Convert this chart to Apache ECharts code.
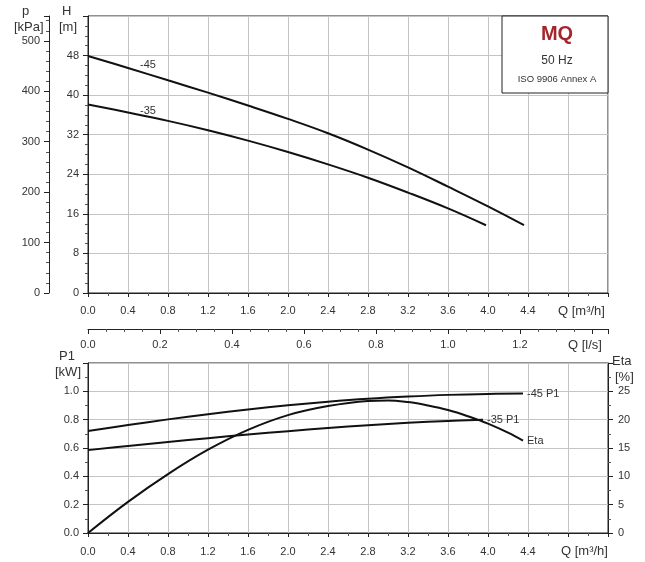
<!DOCTYPE html>
<html>
<head>
<meta charset="utf-8">
<script src="https://cdn.jsdelivr.net/npm/echarts@6/dist/echarts.min.js"></script>
<style>
html,body{margin:0;padding:0;background:#fff;}
#chart{width:645px;height:562px;}
</style>
</head>
<body>
<div id="chart"></div>
<script>
// ---- data ----
const qH45 = [0, 0.4, 0.8, 1.2, 1.6, 2.0, 2.4, 2.8, 3.2, 3.6, 4.0, 4.36];
const h45  = [47.9, 45.5, 43.0, 40.5, 37.9, 35.2, 32.3, 29.0, 25.4, 21.5, 17.5, 13.7];
const qH35 = [0, 0.4, 0.8, 1.2, 1.6, 2.0, 2.4, 2.8, 3.2, 3.6, 3.98];
const h35  = [38.1, 36.5, 34.8, 32.9, 30.8, 28.5, 26.0, 23.3, 20.3, 17.1, 13.7];

const qP45 = [0, 0.4, 0.8, 1.2, 1.6, 2.0, 2.4, 2.8, 3.2, 3.6, 4.0, 4.35];
const p45  = [0.72, 0.762, 0.802, 0.839, 0.872, 0.901, 0.926, 0.947, 0.963, 0.975, 0.982, 0.984];
const qP35 = [0, 0.4, 0.8, 1.2, 1.6, 2.0, 2.4, 2.8, 3.2, 3.6, 3.95];
const p35  = [0.585, 0.614, 0.642, 0.669, 0.695, 0.719, 0.741, 0.761, 0.778, 0.791, 0.80];
const qEta = [0, 0.4, 0.8, 1.2, 1.6, 2.0, 2.4, 2.8, 3.0, 3.2, 3.4, 3.6, 3.8, 4.0, 4.2, 4.35];
const eta  = [0, 5.5, 10.4, 14.7, 18.2, 20.8, 22.4, 23.3, 23.4, 23.1, 22.5, 21.7, 20.6, 19.3, 17.7, 16.3];

const qTickLabels = ['0.0','0.4','0.8','1.2','1.6','2.0','2.4','2.8','3.2','3.6','4.0','4.4'];
const lsTickLabels = ['0.0','0.2','0.4','0.6','0.8','1.0','1.2'];
const label45Pos = [0.6, 46.2];
const label35Pos = [0.6, 36.8];

const FONT = "'Liberation Sans', Arial, sans-serif";
const TXT = '#333';
const GRIDC = '#c4c4c4';
const LINEC = '#111';

function pairs(xs, ys){ return xs.map((x,i)=>[x, ys[i]]); }
function qFmt(v){ const i = Math.round(v/0.4); return (Math.abs(v - i*0.4) < 1e-6 && i < qTickLabels.length) ? qTickLabels[i] : ''; }
function lsFmt(v){ const i = Math.round(v/0.2); return (Math.abs(v - i*0.2) < 1e-6 && i < lsTickLabels.length) ? lsTickLabels[i] : ''; }

const axisLineBlack = {show:true, onZero:false, lineStyle:{color:'#222', width:1}};
const lbl = (m)=>({color:TXT, fontSize:11, fontFamily:FONT, margin:m});
const split = {show:true, lineStyle:{color:GRIDC, width:1}};

const option = {
  animation:false,
  backgroundColor:'#fff',
  grid:[
    {left:88, right:37, top:16, height:277, show:true, borderColor:'#222', borderWidth:1},
    {left:88, right:37, top:363, height:170, show:true, borderColor:'#222', borderWidth:1}
  ],
  xAxis:[
    {gridIndex:0, type:'value', min:0, max:5.2, interval:0.4, position:'bottom',
     axisLine:axisLineBlack, axisTick:{show:true, length:4, lineStyle:{color:'#222'}},
     minorTick:{show:true, splitNumber:2, length:3, lineStyle:{color:'#555'}},
     splitLine:split, axisLabel:Object.assign(lbl(12), {formatter:qFmt})},
    {gridIndex:0, type:'value', min:0, max:5.2/3.6, interval:0.2, position:'bottom', offset:36,
     axisLine:axisLineBlack, axisTick:{show:true, length:5, lineStyle:{color:'#222'}},
     minorTick:{show:true, splitNumber:4, length:3, lineStyle:{color:'#555'}},
     splitLine:{show:false}, axisLabel:Object.assign(lbl(10), {formatter:lsFmt})},
    {gridIndex:1, type:'value', min:0, max:5.2, interval:0.4, position:'bottom',
     axisLine:axisLineBlack, axisTick:{show:true, length:4, lineStyle:{color:'#222'}},
     minorTick:{show:true, splitNumber:2, length:3, lineStyle:{color:'#555'}},
     splitLine:split, axisLabel:Object.assign(lbl(13), {formatter:qFmt})}
  ],
  yAxis:[
    {gridIndex:0, type:'value', min:0, max:56, interval:8, position:'left',
     axisLine:axisLineBlack, axisTick:{show:true, length:5, lineStyle:{color:'#222'}},
     minorTick:{show:true, splitNumber:4, length:3, lineStyle:{color:'#555'}},
     splitLine:split, axisLabel:Object.assign(lbl(9), {showMaxLabel:false})},
    {gridIndex:0, type:'value', min:0, max:56*9.81, interval:100, position:'left', offset:39,
     axisLine:axisLineBlack, axisTick:{show:true, length:5, lineStyle:{color:'#222'}},
     minorTick:{show:true, splitNumber:5, length:3, lineStyle:{color:'#555'}},
     splitLine:{show:false}, axisLabel:Object.assign(lbl(9), {showMaxLabel:false})},
    {gridIndex:1, type:'value', min:0, max:1.2, interval:0.2, position:'left',
     axisLine:axisLineBlack, axisTick:{show:true, length:5, lineStyle:{color:'#222'}},
     minorTick:{show:true, splitNumber:2, length:3, lineStyle:{color:'#555'}},
     splitLine:split, axisLabel:Object.assign(lbl(9), {showMaxLabel:false, formatter:(v)=>v.toFixed(1)})},
    {gridIndex:1, type:'value', min:0, max:30, interval:5, position:'right',
     axisLine:axisLineBlack, axisTick:{show:true, length:5, lineStyle:{color:'#222'}},
     minorTick:{show:true, splitNumber:2, length:3, lineStyle:{color:'#555'}},
     splitLine:{show:false}, axisLabel:Object.assign(lbl(10), {showMaxLabel:false})}
  ],
  series:[
    {type:'line', name:'-45', xAxisIndex:0, yAxisIndex:0, data:pairs(qH45,h45), smooth:0.4,
     showSymbol:false, lineStyle:{color:LINEC, width:2},
     markPoint:{symbol:'circle', symbolSize:0, data:[{coord:label45Pos, label:{show:true, position:'inside', formatter:'-45', color:TXT, fontSize:11, fontFamily:FONT}}]}},
    {type:'line', name:'-35', xAxisIndex:0, yAxisIndex:0, data:pairs(qH35,h35), smooth:0.4,
     showSymbol:false, lineStyle:{color:LINEC, width:2},
     markPoint:{symbol:'circle', symbolSize:0, data:[{coord:label35Pos, label:{show:true, position:'inside', formatter:'-35', color:TXT, fontSize:11, fontFamily:FONT}}]}},
    {type:'line', name:'-45 P1', xAxisIndex:2, yAxisIndex:2, data:pairs(qP45,p45), smooth:0.4,
     showSymbol:false, lineStyle:{color:LINEC, width:2},
     endLabel:{show:true, formatter:'-45 P1', distance:4, color:TXT, fontSize:11, fontFamily:FONT}},
    {type:'line', name:'-35 P1', xAxisIndex:2, yAxisIndex:2, data:pairs(qP35,p35), smooth:0.4,
     showSymbol:false, lineStyle:{color:LINEC, width:2},
     endLabel:{show:true, formatter:'-35 P1', distance:4, color:TXT, fontSize:11, fontFamily:FONT}},
    {type:'line', name:'Eta', xAxisIndex:2, yAxisIndex:3, data:pairs(qEta,eta), smooth:0.4,
     showSymbol:false, lineStyle:{color:LINEC, width:2},
     endLabel:{show:true, formatter:'Eta', distance:4, color:TXT, fontSize:11, fontFamily:FONT}}
  ],
  graphic:[
    {type:'text', left:22, top:5, style:{text:'p', fill:TXT, font:'13px '+FONT}},
    {type:'text', left:14, top:21, style:{text:'[kPa]', fill:TXT, font:'13px '+FONT}},
    {type:'text', left:62, top:5, style:{text:'H', fill:TXT, font:'13px '+FONT}},
    {type:'text', left:59, top:21, style:{text:'[m]', fill:TXT, font:'13px '+FONT}},
    {type:'text', left:558, top:305, style:{text:'Q [m\u00b3/h]', fill:TXT, font:'13px '+FONT}},
    {type:'text', left:568, top:339, style:{text:'Q [l/s]', fill:TXT, font:'13px '+FONT}},
    {type:'text', left:561, top:545, style:{text:'Q [m\u00b3/h]', fill:TXT, font:'13px '+FONT}},
    {type:'text', left:59, top:350, style:{text:'P1', fill:TXT, font:'13px '+FONT}},
    {type:'text', left:55, top:366, style:{text:'[kW]', fill:TXT, font:'13px '+FONT}},
    {type:'text', left:612, top:355, style:{text:'Eta', fill:TXT, font:'13px '+FONT}},
    {type:'text', left:615, top:371, style:{text:'[%]', fill:TXT, font:'13px '+FONT}},
    {type:'rect', shape:{x:502, y:16, width:106, height:77}, style:{fill:'#fff', stroke:'#222', lineWidth:1}, z:10},
    {type:'text', x:557, y:34, z:11, style:{text:'MQ', fill:'#a3262c', font:'bold 20px '+FONT, align:'center', verticalAlign:'middle'}},
    {type:'text', x:557, y:61, z:11, style:{text:'50 Hz', fill:TXT, font:'12px '+FONT, align:'center', verticalAlign:'middle'}},
    {type:'text', x:557, y:79, z:11, style:{text:'ISO 9906 Annex A', fill:TXT, font:'9.5px '+FONT, align:'center', verticalAlign:'middle'}}
  ]
};

const chart = echarts.init(document.getElementById('chart'), null, {renderer:'canvas'});
chart.setOption(option);
</script>
</body>
</html>
